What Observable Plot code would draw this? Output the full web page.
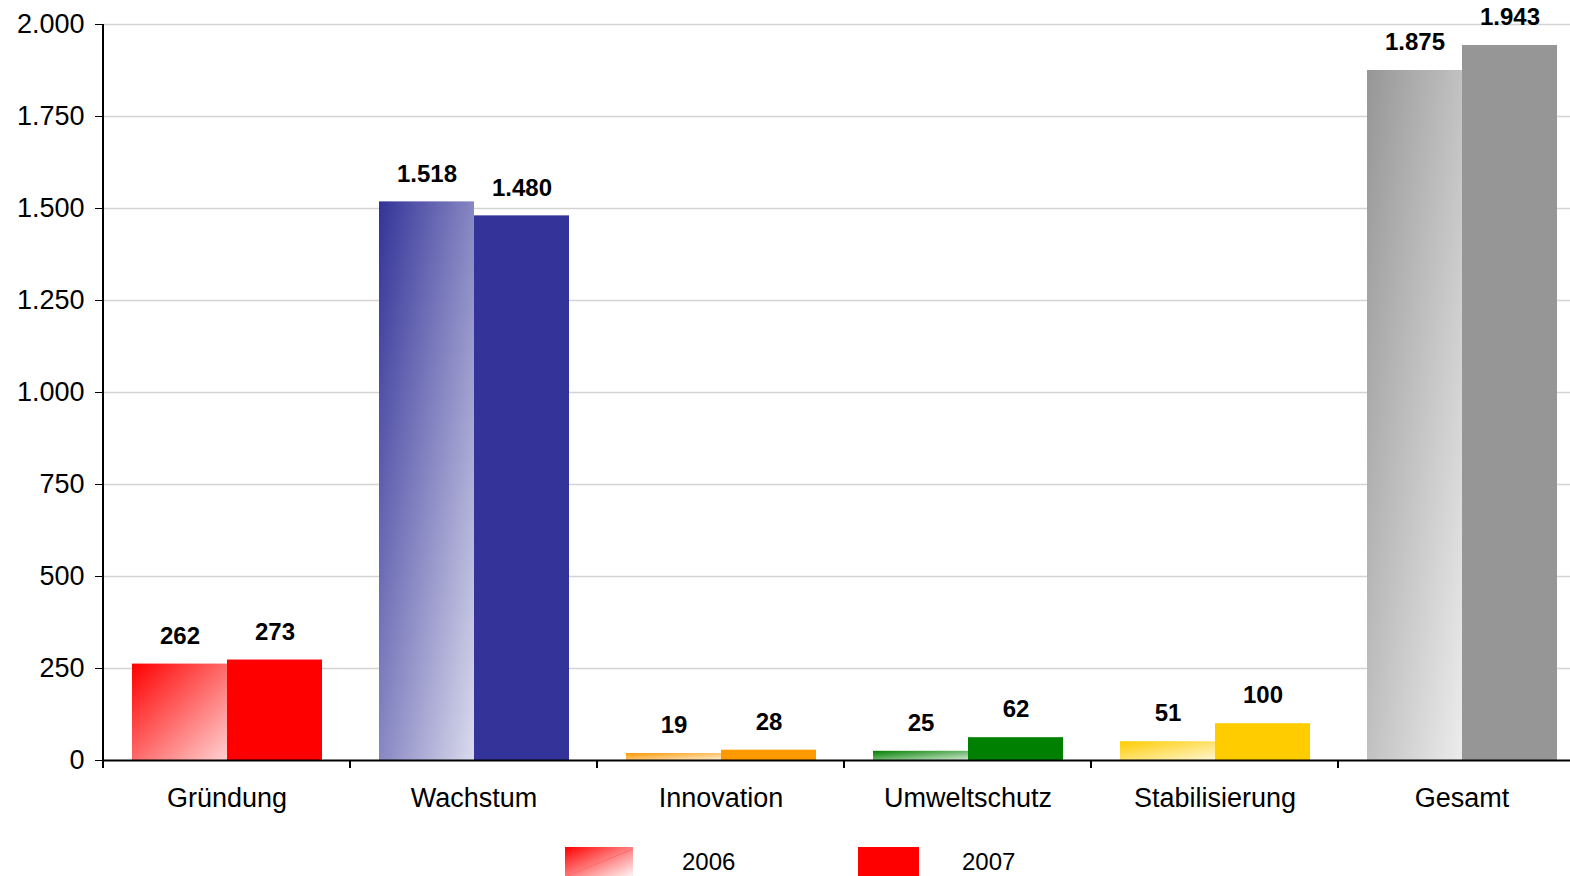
<!DOCTYPE html>
<html>
<head>
<meta charset="utf-8">
<script src="https://cdn.jsdelivr.net/npm/d3@7"></script>
<script src="https://cdn.jsdelivr.net/npm/@observablehq/plot@0.6"></script>
<style>
  html, body { margin: 0; padding: 0; background: #fff; overflow: hidden; }
  body { width: 1570px; height: 876px; font-family: 'Liberation Sans', Arial, sans-serif; }
  #chart { width: 1590px; height: 820px; }
  #chart svg { display: block; max-width: none !important; }
  #legend { position: relative; width: 1570px; height: 56px; }
  #legend .sw { position: absolute; top: 27px; height: 32px; }
  #legend .lb { position: absolute; font-size: 24px; line-height: 28px; color: #000; }
</style>
</head>
<body>
<div id="chart"></div>
<div id="legend"></div>
<script>
const categories = ["Gründung", "Wachstum", "Innovation", "Umweltschutz", "Stabilisierung", "Gesamt"];
const years = ["2006", "2007"];
const values2006 = [262, 1518, 19, 25, 51, 1875];
const values2007 = [273, 1480, 28, 62, 100, 1943];
const colors = ["#FF0000", "#333399", "#FF9900", "#008000", "#FFCC00", "#969696"];
const yTicks = [0, 250, 500, 750, 1000, 1250, 1500, 1750, 2000];

const fmt = d3.formatLocale({decimal: ",", thousands: ".", grouping: [3], currency: ["", " €"]}).format(",d");

const data = categories.flatMap((c, i) => [
  {cat: c, year: years[0], value: values2006[i], fill: `url(#grad${i})`},
  {cat: c, year: years[1], value: values2007[i], fill: colors[i]}
]);

const chart = Plot.plot({
  width: 1590,
  height: 820,
  marginLeft: 102,
  marginRight: 4,
  marginTop: 24,
  marginBottom: 60,
  style: {fontFamily: "'Liberation Sans', Arial, sans-serif", fontSize: "27px", color: "#000", background: "#fff", overflow: "visible", maxWidth: "none"},
  facet: {data, x: "cat"},
  fx: {domain: categories, padding: 0, label: null, axis: "bottom", tickSize: 0, tickPadding: 27},
  x: {type: "band", domain: years, paddingInner: 0, paddingOuter: 0.29, axis: null},
  y: {domain: [0, 2000], ticks: yTicks, tickFormat: fmt, tickSize: 8, tickPadding: 11, label: null},
  color: {type: "identity"},
  marks: [
    Plot.ruleY(yTicks.filter(v => v > 0), {stroke: "#d4d4d4", strokeWidth: 1.3}),
    Plot.barY(data, {x: "year", y: "value", fill: "fill"}),
    Plot.ruleY([0], {stroke: "#000", strokeWidth: 2}),
    Plot.text(data, {x: "year", y: "value", text: d => fmt(d.value), dy: -28, fontWeight: "bold", fontSize: 24, fill: "#000"})
  ]
});

document.getElementById("chart").appendChild(chart);

// gradients for 2006 bars
const svg = d3.select(chart.tagName.toLowerCase() === "svg" ? chart : chart.querySelector("svg"));
svg.style("max-width", "none");
const defs = svg.insert("defs", ":first-child");
colors.forEach((c, i) => {
  const g = defs.append("linearGradient").attr("id", `grad${i}`)
    .attr("x1", 0).attr("y1", 0).attr("x2", 1).attr("y2", 1);
  g.append("stop").attr("offset", 0).attr("stop-color", c);
  g.append("stop").attr("offset", 1).attr("stop-color", d3.interpolateRgb(c, "#fff")(0.82));
});

// y axis line and x separator ticks, from the plot's scales
const yS = chart.scale("y");
const fxS = chart.scale("fx");
const y0 = yS.apply(0), yTop = yS.apply(2000);
const left = fxS.apply(categories[0]);
svg.append("line").attr("x1", left).attr("x2", left).attr("y1", yTop).attr("y2", y0 + 8)
  .attr("stroke", "#000").attr("stroke-width", 2);
const bw = fxS.bandwidth !== undefined ? fxS.bandwidth : (fxS.apply(categories[1]) - left);
categories.forEach((c, i) => {
  const xs = fxS.apply(c) + bw;
  svg.append("line").attr("x1", xs).attr("x2", xs).attr("y1", y0).attr("y2", y0 + 8)
    .attr("stroke", "#000").attr("stroke-width", 2);
});

// legend
const legend = document.getElementById("legend");
legend.innerHTML = `
  <svg class="sw" style="left:565px" width="68" height="32">
    <defs><linearGradient id="lg06" x1="0" y1="0" x2="1" y2="1">
      <stop offset="0" stop-color="${colors[0]}"/><stop offset="1" stop-color="#fff"/>
    </linearGradient></defs>
    <rect width="68" height="32" fill="url(#lg06)"/>
    <line x1="0" y1="30" x2="68" y2="2" stroke="#ff6a6a" stroke-width="1"/>
  </svg>
  <div class="lb" style="left:682px;top:28px">${years[0]}</div>
  <div class="sw" style="left:858px;width:61px;background:${colors[0]}"></div>
  <div class="lb" style="left:962px;top:28px">${years[1]}</div>`;
</script>
</body>
</html>
